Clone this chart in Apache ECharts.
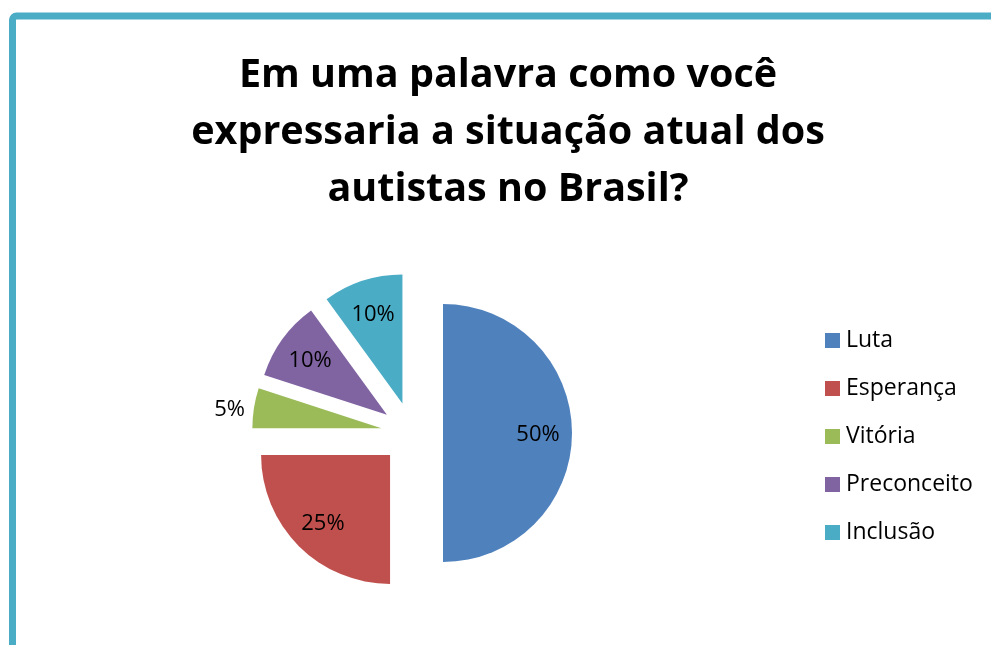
<!DOCTYPE html>
<html>
<head>
<meta charset="utf-8">
<script src="https://cdn.jsdelivr.net/npm/echarts@6/dist/echarts.min.js"></script>
<style>
html,body{margin:0;padding:0;background:#fff;}
#chart{width:991px;height:645px;}
</style>
</head>
<body>
<div id="chart"></div>
<script>
const titleText = 'Em uma palavra como você\nexpressaria a situação atual dos\nautistas no Brasil?';
const categories = ['Luta', 'Esperança', 'Vitória', 'Preconceito', 'Inclusão'];
const values = [50, 25, 5, 10, 10];
const colors = ['#4F81BD', '#C0504D', '#9BBB59', '#8064A2', '#4BACC6'];
const outsideLabels = ['Vitória'];

const font = '"Open Sans", "Noto Sans", sans-serif';
const total = values.reduce((a, b) => a + b, 0);

const chart = echarts.init(document.getElementById('chart'), null, {renderer: 'canvas'});

const mainData = categories.map((c, i) => ({
  name: c, value: values[i], selected: true,
  itemStyle: {color: colors[i]}
}));
const labelData = categories.map((c, i) => ({
  name: c, value: values[i], selected: true,
  label: outsideLabels.includes(c)
    ? {position: 'outside'}
    : {position: 'inside'},
  labelLine: {show: false, length: 4, length2: 0}
}));

chart.setOption({
  backgroundColor: '#fff',
  animation: false,
  color: colors,
  graphic: [{
    type: 'rect', silent: true,
    shape: {x: 12.5, y: 16, width: 1100, height: 800, r: 4},
    style: {fill: 'none', stroke: '#4BACC6', lineWidth: 7}
  }],
  title: {
    text: titleText,
    left: 503, top: 42, textAlign: 'center',
    textStyle: {fontFamily: font, fontWeight: 'bold', fontSize: 39.5, lineHeight: 57, color: '#000'}
  },
  legend: {
    orient: 'vertical', left: 820, top: 324,
    icon: 'rect', itemWidth: 15, itemHeight: 15, itemGap: 25,
    selectedMode: false,
    data: categories,
    textStyle: {fontFamily: font, fontSize: 23, color: '#000', padding: [0, 0, 0, 1]}
  },
  series: [{
    type: 'pie', name: 'main',
    center: [412, 433], radius: [0, 129],
    startAngle: 90, clockwise: true,
    selectedMode: 'multiple', selectedOffset: 31,
    silent: true,
    label: {show: false}, labelLine: {show: false},
    emphasis: {disabled: true},
    data: mainData
  }, {
    type: 'pie', name: 'labels',
    center: [412, 435], radius: [55, 129],
    startAngle: 90, clockwise: true,
    selectedMode: 'multiple', selectedOffset: 31,
    silent: true,
    itemStyle: {color: 'rgba(0,0,0,0)'},
    emphasis: {disabled: true},
    label: {
      show: true, fontFamily: font, fontSize: 22, color: '#000',
      formatter: p => Math.round(p.value / total * 100) + '%'
    },
    data: labelData
  }]
});
</script>
</body>
</html>
